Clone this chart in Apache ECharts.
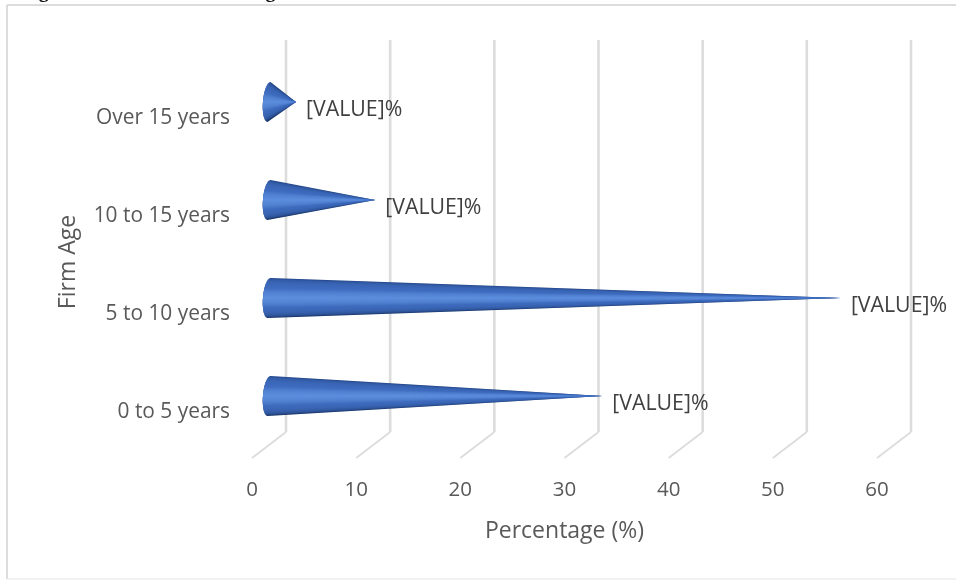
<!DOCTYPE html>
<html>
<head>
<meta charset="utf-8">
<style>html,body{margin:0;padding:0;background:#fff}#chart{width:956px;height:580px}</style>
<script src="https://cdn.jsdelivr.net/npm/echarts@6/dist/echarts.min.js"></script>
</head>
<body>
<div id="chart"></div>
<script>
// Firm age distribution, drawn as pseudo-3D cones on a receding floor.
const categories = ['0 to 5 years', '5 to 10 years', '10 to 15 years', 'Over 15 years'];
const percentages = [32.0, 54.9, 10.2, 2.6];
const valueLabels = ['[VALUE]%', '[VALUE]%', '[VALUE]%', '[VALUE]%'];
const ticks = [0, 10, 20, 30, 40, 50, 60];

const DEPTH_X = 34, DEPTH_Y = -26;   // front plane to back wall
const CONE_R = 20, CONE_RX = 6, SKEW = 1.5, LAYERS = 30;
const FONT = 'Open Sans';

function renderGrid(params, api) {
  const sys = params.coordSys;
  const p = api.coord([api.value(0), 0]);
  const bottom = sys.y + sys.height;
  return {
    type: 'group',
    children: [
      { type: 'line', shape: { x1: p[0] + DEPTH_X, y1: sys.y + DEPTH_Y, x2: p[0] + DEPTH_X, y2: bottom + DEPTH_Y },
        style: { stroke: '#dcdcdc', lineWidth: 2.6, fill: null } },
      { type: 'line', shape: { x1: p[0] + DEPTH_X, y1: bottom + DEPTH_Y, x2: p[0], y2: bottom },
        style: { stroke: '#dcdcdc', lineWidth: 1.8, fill: null } }
    ]
  };
}

function renderCone(params, api) {
  const base = api.coord([0, api.value(1)]);
  const end = api.coord([api.value(0), api.value(1)]);
  const cx = base[0] + DEPTH_X / 2, cy = base[1] + DEPTH_Y / 2;
  const tipX = end[0] + DEPTH_X / 2;
  const rim = a => [cx - CONE_RX * Math.cos(a) - SKEW * Math.sin(a), cy + CONE_R * Math.sin(a)];
  // Outline of the cone between two angles around its base
  const wedge = (a0, a1) => {
    const pts = [[tipX, cy]];
    for (let i = 0; i <= 24; i++) pts.push(rim(a0 + (a1 - a0) * i / 24));
    return pts;
  };
  const children = [{
    type: 'polygon',
    shape: { points: wedge(-Math.PI / 2, Math.PI / 2) },
    style: {
      fill: {
        type: 'linear', x: 0, y: 0, x2: 0, y2: 1,
        colorStops: [{ offset: 0, color: '#25488a' }, { offset: 1, color: '#16305f' }]
      }
    }
  }];
  // Stacked translucent wedges build up the highlight along the axis
  for (let j = 1; j <= LAYERS; j++) {
    const f = j / (LAYERS + 1);
    const w = (Math.PI / 2) * (1 - Math.pow(f, 0.75));
    children.push({
      type: 'polygon',
      shape: { points: wedge(-w, w) },
      style: { fill: f < 0.6 ? '#4273c6' : '#6a9ef0', opacity: f < 0.6 ? 0.13 : 0.1 }
    });
  }
  children.push({
    type: 'text',
    style: {
      x: tipX + 10, y: cy + 8,
      text: valueLabels[params.dataIndex],
      fill: '#404040',
      font: '400 21.3px "' + FONT + '"',
      textAlign: 'left', textVerticalAlign: 'middle'
    }
  });
  return { type: 'group', children };
}

const chart = echarts.init(document.getElementById('chart'), null, { renderer: 'canvas' });
const titleFont = 'bold 20px "Liberation Serif"';
chart.setOption({
  animation: false,
  backgroundColor: '#fff',
  graphic: [
    { type: 'line', z: -10, shape: { x1: 7, y1: 5, x2: 956, y2: 5 }, style: { stroke: '#dcdcdc', lineWidth: 2 } },
    { type: 'line', z: -10, shape: { x1: 7, y1: 5, x2: 7, y2: 579 }, style: { stroke: '#dcdcdc', lineWidth: 2 } },
    { type: 'line', z: -10, shape: { x1: 7, y1: 579, x2: 956, y2: 579 }, style: { stroke: '#ececec', lineWidth: 1.5 } },
    // Caption sits above the frame; only its descenders fall inside the page
    { type: 'text', z: -10, style: { x: 21, y: 1.5, text: 'Figure', font: titleFont, fill: '#111', textVerticalAlign: 'bottom' } },
    { type: 'text', z: -10, style: { x: 251, y: 1.5, text: 'Age', font: titleFont, fill: '#111', textVerticalAlign: 'bottom' } }
  ],
  grid: { left: 252, right: 79, top: 66, bottom: 122 },
  xAxis: {
    type: 'value', min: 0, max: 60, interval: 10,
    axisLine: { show: false }, axisTick: { show: false }, splitLine: { show: false },
    axisLabel: { color: '#595959', fontFamily: FONT, fontSize: 20.5, margin: 22 },
    name: 'Percentage (%)', nameLocation: 'middle', nameGap: 62,
    nameTextStyle: { color: '#595959', fontFamily: FONT, fontSize: 23 }
  },
  yAxis: {
    type: 'category', data: categories,
    axisLine: { show: false }, axisTick: { show: false }, splitLine: { show: false },
    axisLabel: { color: '#595959', fontFamily: FONT, fontSize: 20.9, margin: 22, verticalAlign: 'top', lineHeight: 6 },
    name: 'Firm Age', nameLocation: 'middle', nameGap: 172, nameRotate: 90,
    nameTextStyle: { color: '#595959', fontFamily: FONT, fontSize: 23 }
  },
  series: [
    { type: 'custom', name: 'grid', z: 1, silent: true, coordinateSystem: 'cartesian2d', renderItem: renderGrid,
      data: ticks.map(t => [t, 0]), encode: { x: 0, y: 1 } },
    { type: 'custom', name: 'Firm Age', z: 2, silent: true, coordinateSystem: 'cartesian2d', renderItem: renderCone,
      data: percentages.map((v, i) => [v, i]), encode: { x: 0, y: 1 } }
  ]
});
</script>
</body>
</html>
